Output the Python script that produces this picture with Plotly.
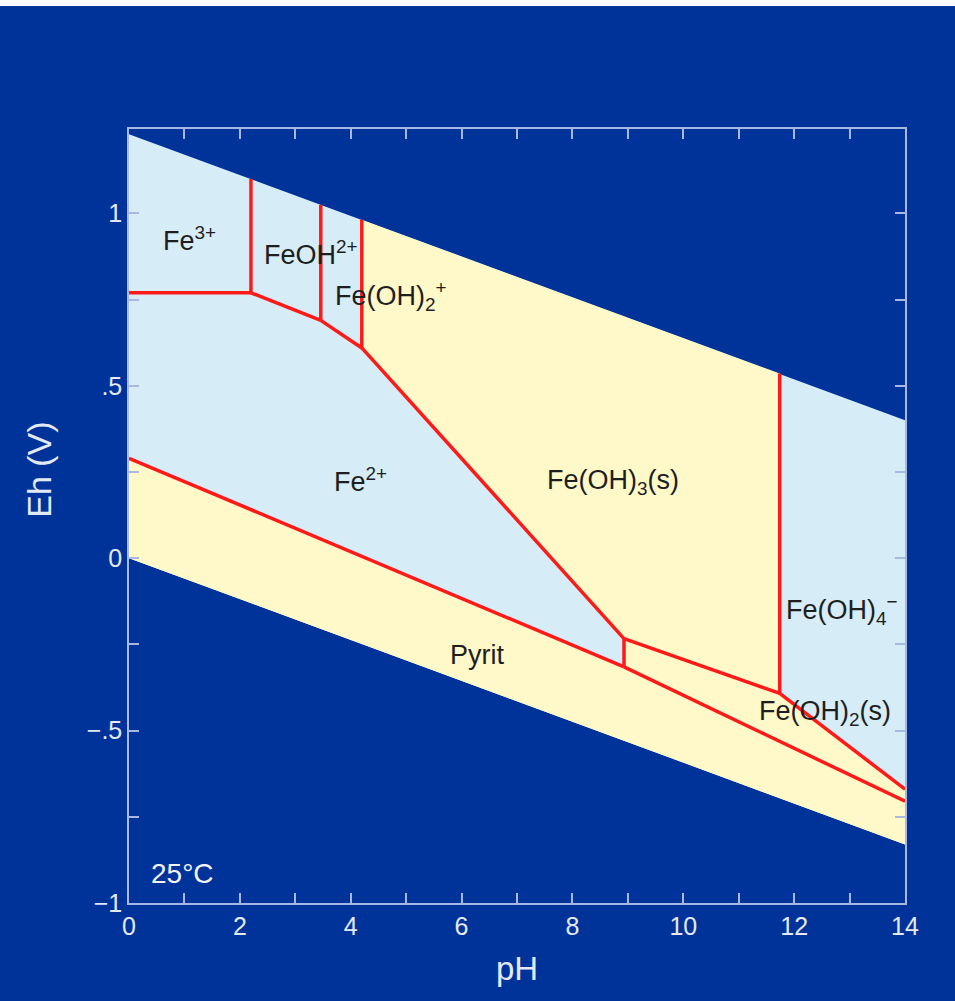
import plotly.graph_objects as go

# Pourbaix (Eh-pH) diagram for the Fe-S-O-H system at 25 °C
# Boundary endpoints as (pH, Eh in volts)
water_upper = [(0, 1.23), (14, 0.40)]
water_lower = [(0, 0.0), (14, -0.83)]

fe3_fe2 = [(0, 0.77), (2.2, 0.77)]
fe3_feoh = [(2.2, 0.77), (2.2, 1.10)]
feoh_fe2 = [(2.2, 0.77), (3.46, 0.69)]
feoh_feoh2 = [(3.46, 0.69), (3.46, 1.025)]
feoh2_fe2 = [(3.46, 0.69), (4.2, 0.61)]
feoh2_feoh3 = [(4.2, 0.61), (4.2, 0.982)]
feoh3_fe2 = [(4.2, 0.61), (8.93, -0.233)]
feoh3_feoh2s = [(8.93, -0.233), (11.74, -0.392)]
feoh3_feoh4 = [(11.74, -0.392), (11.74, 0.536)]
feoh4_feoh2s = [(11.74, -0.392), (14, -0.67)]
fe2_pyrite = [(0, 0.29), (8.93, -0.315)]
fe2_feoh2s = [(8.93, -0.315), (8.93, -0.233)]
feoh2s_pyrite = [(8.93, -0.315), (14, -0.705)]

# Field labels: (text, pH, Eh)
labels = [
    ("Fe<sup>3+</sup>", 1.10, 0.925),
    ("FeOH<sup>2+</sup>", 3.28, 0.885),
    ("Fe(OH)<sub>2</sub><sup>+</sup>", 4.72, 0.762),
    ("Fe<sup>2+</sup>", 4.17, 0.227),
    ("Fe(OH)<sub>3</sub>(s)", 8.73, 0.221),
    ("Fe(OH)<sub>4</sub><sup>−</sup>", 12.86, -0.15),
    ("Fe(OH)<sub>2</sub>(s)", 12.56, -0.448),
    ("Pyrit", 6.28, -0.28),
]
temp_label = ("25°C", 0.97, -0.915)

x_ticks = [0, 2, 4, 6, 8, 10, 12, 14]
x_ticktext = ["0", "2", "4", "6", "8", "10", "12", "14"]
y_ticks = [-1, -0.5, 0, 0.5, 1]
y_ticktext = ["−1", "−.5", "0", ".5", "1"]

BG = "#003399"
AQ = "#d6ecf7"
SOLID = "#fff8c8"
RED = "#ff1a1a"
AXIS = "#a9b8e0"
TICKTXT = "#e4e9f6"
FONT = "Liberation Sans, Arial, sans-serif"


def poly(*pts):
    xs = [p[0] for p in pts]
    ys = [p[1] for p in pts]
    return xs, ys


fig = go.Figure()

# water stability field (aqueous species)
xs, ys = poly(water_upper[0], water_upper[1], water_lower[1], water_lower[0])
fig.add_trace(go.Scatter(x=xs, y=ys, fill="toself", fillcolor=AQ, mode="lines",
                         line=dict(width=0), hoverinfo="skip"))

# solid phases
solids = [
    poly(fe2_pyrite[0], fe2_pyrite[1], feoh2s_pyrite[1], water_lower[1], water_lower[0]),
    poly(feoh2_feoh3[1], feoh3_feoh4[1], feoh3_feoh4[0], feoh3_feoh2s[0], feoh3_fe2[0]),
    poly(feoh3_feoh2s[0], feoh3_feoh2s[1], feoh4_feoh2s[1], feoh2s_pyrite[1], feoh2s_pyrite[0]),
]
for xs, ys in solids:
    fig.add_trace(go.Scatter(x=xs, y=ys, fill="toself", fillcolor=SOLID, mode="lines",
                             line=dict(width=0), hoverinfo="skip"))

# boundaries
for seg in [fe3_fe2, fe3_feoh, feoh_fe2, feoh_feoh2, feoh2_fe2, feoh2_feoh3, feoh3_fe2,
            feoh3_feoh2s, feoh3_feoh4, feoh4_feoh2s, fe2_pyrite, fe2_feoh2s, feoh2s_pyrite]:
    xs, ys = poly(*seg)
    fig.add_trace(go.Scatter(x=xs, y=ys, mode="lines", line=dict(color=RED, width=3.5),
                             hoverinfo="skip"))

for text, x, y in labels:
    fig.add_annotation(x=x, y=y, text=text, showarrow=False,
                       font=dict(family=FONT, size=27, color="#1e1e1e"))
fig.add_annotation(x=temp_label[1], y=temp_label[2], text=temp_label[0], showarrow=False,
                   font=dict(family=FONT, size=28, color="#f2f4fa"))

# axis titles
fig.add_annotation(xref="paper", yref="paper", x=0.5, y=-0.084, text="pH", showarrow=False,
                   xanchor="center", yanchor="middle",
                   font=dict(family=FONT, size=33, color=TICKTXT))
fig.add_annotation(xref="paper", yref="paper", x=-0.117, y=0.56, text="Eh (V)", showarrow=False,
                   xanchor="center", yanchor="middle", textangle=-90,
                   font=dict(family=FONT, size=34, color=TICKTXT))

axis_common = dict(showline=True, linecolor=AXIS, linewidth=1.5, mirror="allticks",
                   ticks="inside", ticklen=10, tickwidth=1.5, tickcolor=AXIS,
                   showgrid=False, zeroline=False,
                   tickfont=dict(family=FONT, size=25, color=TICKTXT))

fig.update_xaxes(range=[0, 14], tickvals=x_ticks, ticktext=x_ticktext,
                 minor=dict(dtick=1, tick0=0, ticks="inside", ticklen=10, tickwidth=1.5,
                            tickcolor=AXIS, showgrid=False),
                 **axis_common)
fig.update_yaxes(range=[-1, 1.245], tickvals=y_ticks, ticktext=y_ticktext,
                 minor=dict(dtick=0.25, tick0=0, ticks="inside", ticklen=10, tickwidth=1.5,
                            tickcolor=AXIS, showgrid=False),
                 **axis_common)

# thin white strip across the top edge
fig.add_shape(type="rect", xref="paper", yref="paper", x0=-0.2, x1=1.1,
              y0=1 + 123 / 774, y1=1.2, fillcolor="white", line=dict(width=0), layer="above")

fig.update_layout(width=955, height=1001, showlegend=False,
                  paper_bgcolor=BG, plot_bgcolor=BG,
                  margin=dict(l=129, r=50, t=129, b=98))

fig.write_html("out.html")
